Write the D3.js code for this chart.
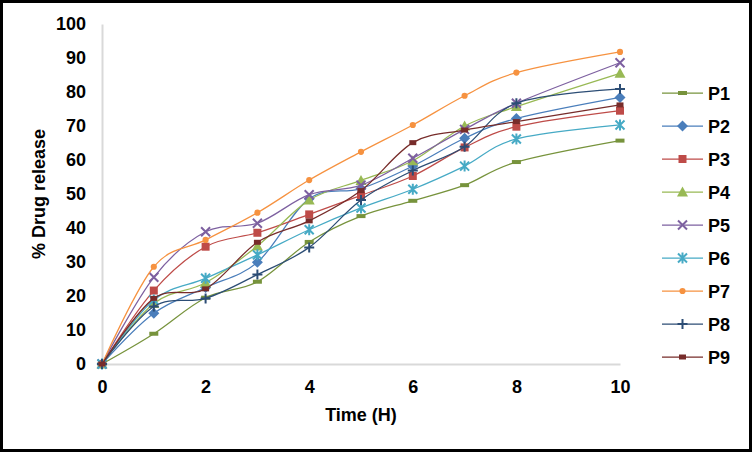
<!DOCTYPE html>
<html>
<head>
<meta charset="utf-8">
<script src="https://cdn.jsdelivr.net/npm/d3@7"></script>
<style>
  html, body { margin: 0; padding: 0; background: #fff; }
  svg { display: block; font-family: Arial, "Liberation Sans", sans-serif; }
  .tick text { font-size: 18px; font-weight: bold; fill: #000; }
</style>
</head>
<body>
<svg id="chart" width="752" height="452"></svg>
<script>
// time points (hours)
const times = [0, 1, 2, 3, 4, 5, 6, 7, 8, 10];
const seriesNames = ["P1", "P2", "P3", "P4", "P5", "P6", "P7", "P8", "P9"];

// % drug release
const p1 = [0, 8.9, 19.5, 24.2, 35.9, 43.5, 48.0, 52.6, 59.4, 65.7];
const p2 = [0, 14.9, 22.5, 29.9, 48.6, 51.6, 58.2, 66.4, 72.2, 78.4];
const p3 = [0, 21.6, 34.5, 38.6, 44.0, 49.6, 55.3, 63.7, 69.8, 74.5];
const p4 = [0, 17.8, 23.9, 34.7, 48.2, 54.0, 59.8, 70.0, 75.7, 85.5];
const p5 = [0, 25.5, 38.9, 41.4, 49.8, 52.6, 60.5, 69.0, 76.7, 88.6];
const p6 = [0, 18.8, 25.2, 32.1, 39.5, 45.9, 51.4, 58.2, 66.2, 70.3];
const p7 = [0, 28.6, 36.5, 44.5, 54.1, 62.4, 70.3, 78.9, 85.7, 91.8];
const p8 = [0, 16.9, 19.3, 26.3, 34.3, 48.2, 56.9, 63.9, 76.7, 80.9];
const p9 = [0, 19.3, 22.1, 35.8, 42.1, 51.0, 65.1, 68.8, 71.3, 76.2];
const allValues = [p1, p2, p3, p4, p5, p6, p7, p8, p9];

const yTicks = d3.range(0, 101, 10);
const xTicks = [0, 2, 4, 6, 8, 10];

const colors = ["#77933C", "#4A7EBB", "#BE4B48", "#98B954", "#7D60A0",
                "#46AAC5", "#F69240", "#2C4D75", "#772C2A"];
const markers = ["dash", "diamond", "square", "triangle", "x",
                 "asterisk", "circle", "plus", "smallrect"];

const svg = d3.select("#chart");

// outer frame
svg.append("rect")
  .attr("x", 1.5).attr("y", 1.5)
  .attr("width", 749).attr("height", 449)
  .attr("fill", "#fff")
  .attr("stroke", "#000")
  .attr("stroke-width", 3);

const x = d3.scaleLinear().domain([0, 10]).range([102, 620]);
const y = d3.scaleLinear().domain([0, 100]).range([364, 24]);

// axes
const yAxis = svg.append("g")
  .attr("transform", "translate(" + x(0) + ",0)")
  .call(d3.axisLeft(y).tickValues(yTicks).tickSize(0).tickSizeOuter(0).tickPadding(16));

const xAxis = svg.append("g")
  .attr("transform", "translate(0," + y(0) + ")")
  .call(d3.axisBottom(x).tickValues(xTicks).tickSize(0).tickSizeOuter(0).tickPadding(16));

[yAxis, xAxis].forEach(function (g) {
  g.select(".domain").attr("stroke", "#d9d9d9").attr("stroke-width", 2);
});

// axis titles
svg.append("text")
  .attr("x", 361).attr("y", 421)
  .attr("text-anchor", "middle")
  .attr("font-size", 18).attr("font-weight", "bold")
  .text("Time (H)");

svg.append("text")
  .attr("transform", "translate(45,194) rotate(-90)")
  .attr("text-anchor", "middle")
  .attr("font-size", 18).attr("font-weight", "bold")
  .text("% Drug release");

// marker shapes, centred on 0,0
function markerPath(kind) {
  switch (kind) {
    case "dash": return "M-4.5,-2H4.5V2H-4.5Z";
    case "smallrect": return "M-3.5,-2.5H3.5V2.5H-3.5Z";
    case "diamond": return "M0,-5.5L5.5,0L0,5.5L-5.5,0Z";
    case "square": return "M-4,-4H4V4H-4Z";
    case "triangle": return "M0,-5.5L5.5,4.5H-5.5Z";
    case "circle": return d3.symbol(d3.symbolCircle, 30)();
    case "x": return "M-4.5,-4.5L4.5,4.5M-4.5,4.5L4.5,-4.5";
    case "plus": return "M-5,0H5M0,-5V5";
    case "asterisk": return "M-4.5,-4.5L4.5,4.5M-4.5,4.5L4.5,-4.5M0,-5.5V5.5";
  }
}
const strokeMarkers = ["x", "plus", "asterisk"];

function drawMarker(g, kind, color) {
  const p = g.append("path").attr("d", markerPath(kind));
  if (strokeMarkers.includes(kind)) {
    p.attr("fill", "none").attr("stroke", color).attr("stroke-width", 2);
  } else {
    p.attr("fill", color);
  }
}

const line = d3.line()
  .x(function (d) { return x(d[0]); })
  .y(function (d) { return y(d[1]); })
  .curve(d3.curveCardinal.tension(0));

allValues.forEach(function (vals, i) {
  const pts = times.map(function (t, j) { return [t, vals[j]]; });
  const g = svg.append("g");
  g.append("path")
    .attr("d", line(pts))
    .attr("fill", "none")
    .attr("stroke", colors[i])
    .attr("stroke-width", 1.25);
  pts.forEach(function (d) {
    const m = g.append("g").attr("transform", "translate(" + x(d[0]) + "," + y(d[1]) + ")");
    drawMarker(m, markers[i], colors[i]);
  });
});

// legend
const legend = svg.append("g");
seriesNames.forEach(function (name, i) {
  const ly = 93 + i * 33;
  const g = legend.append("g").attr("transform", "translate(0," + ly + ")");
  g.append("line")
    .attr("x1", 662).attr("x2", 703)
    .attr("stroke", colors[i]).attr("stroke-width", 1.25);
  const m = g.append("g").attr("transform", "translate(682.5,0)");
  drawMarker(m, markers[i], colors[i]);
  g.append("text")
    .attr("x", 708).attr("y", 6.5)
    .attr("font-size", 18).attr("font-weight", "bold")
    .text(name);
});
</script>
</body>
</html>
